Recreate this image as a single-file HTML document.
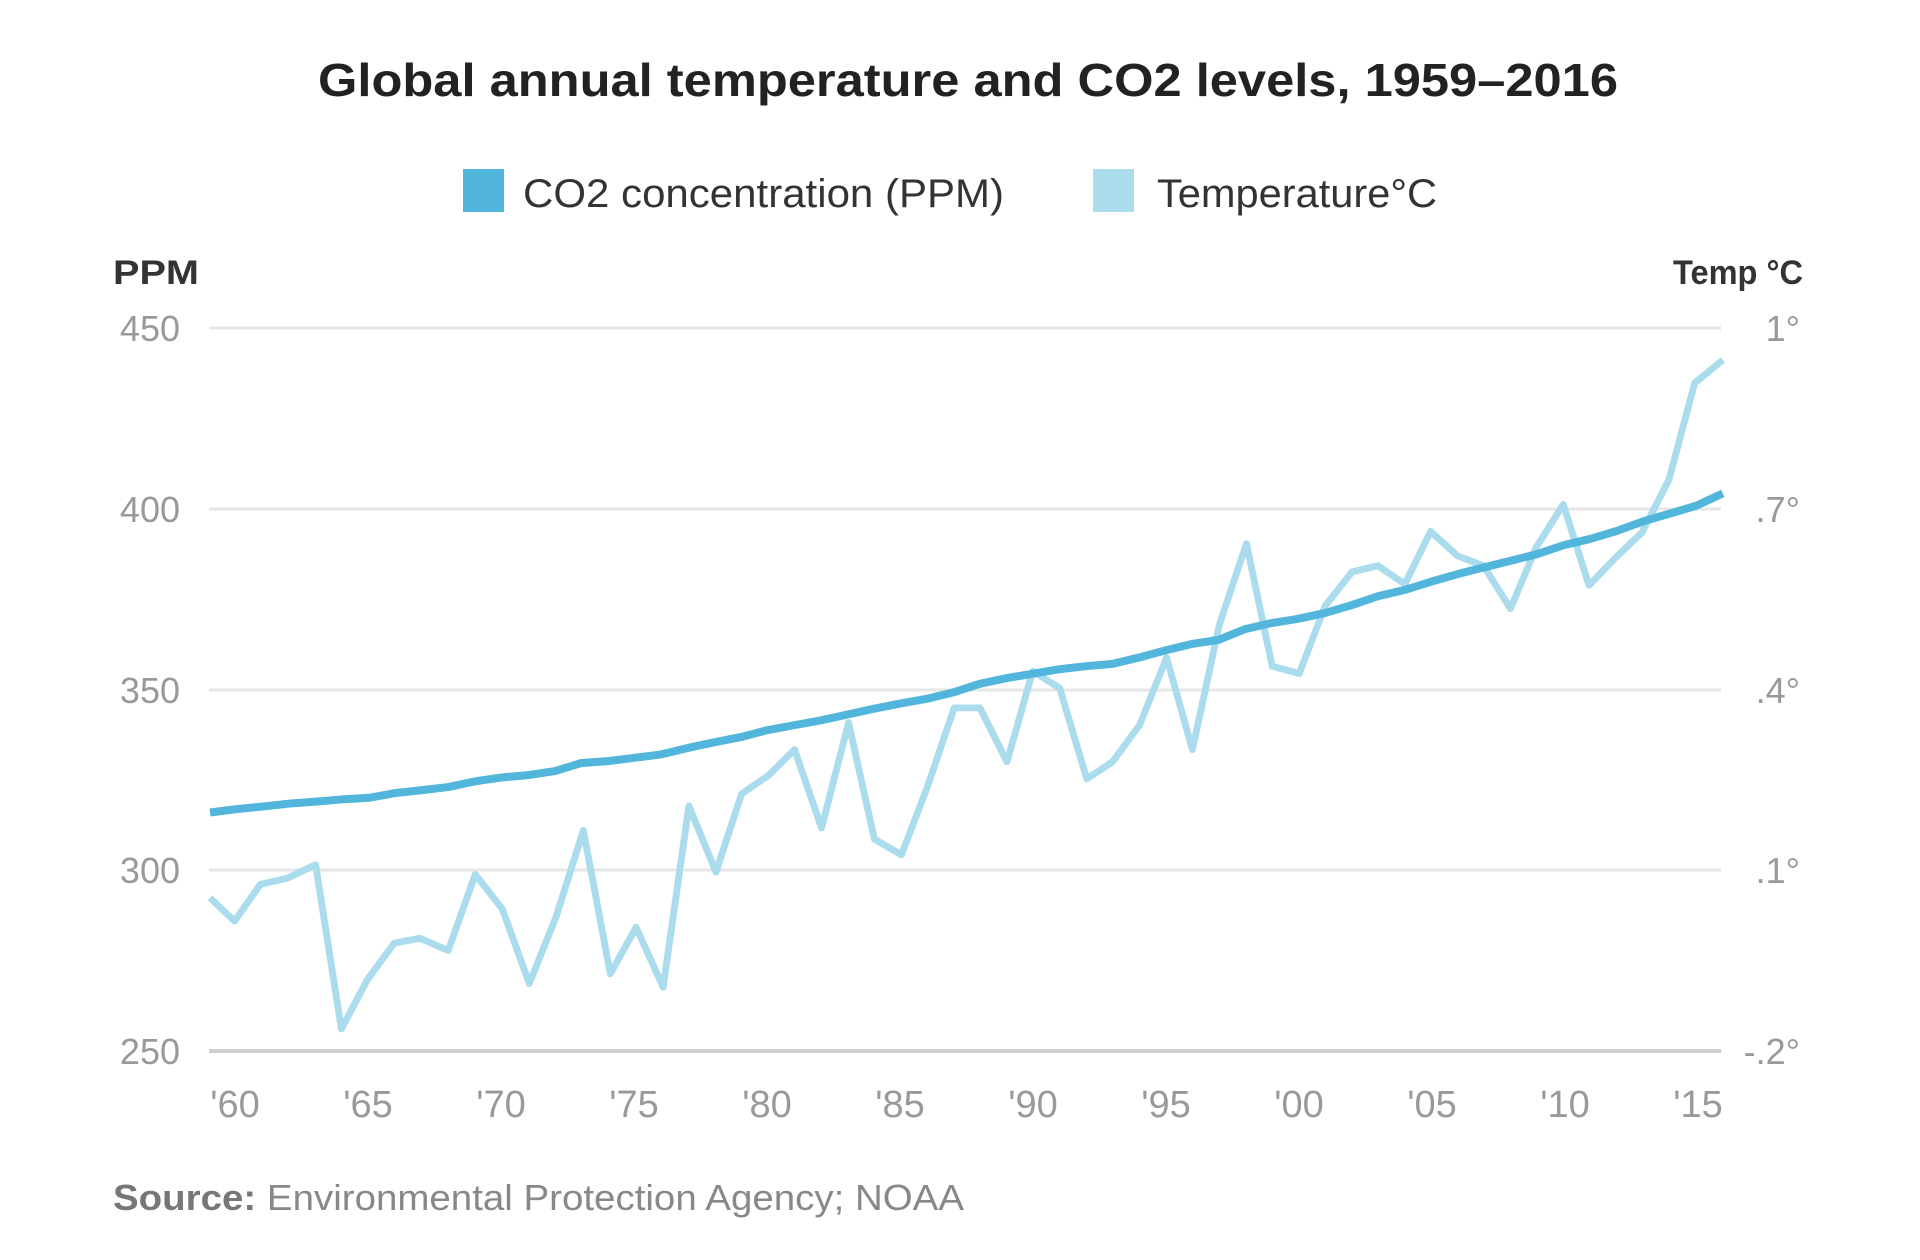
<!DOCTYPE html>
<html><head><meta charset="utf-8"><style>html,body{margin:0;padding:0;background:#fff;}svg{display:block}</style></head>
<body>
<svg width="1920" height="1260" viewBox="0 0 1920 1260" xmlns="http://www.w3.org/2000/svg" font-family="Liberation Sans, sans-serif">
<rect width="1920" height="1260" fill="#fff"/>
<text x="968" y="96" text-anchor="middle" font-size="46" font-weight="bold" fill="#222" textLength="1300" lengthAdjust="spacingAndGlyphs">Global annual temperature and CO2 levels, 1959–2016</text>
<rect x="463" y="169" width="41" height="43" fill="#52b6dc"/>
<text x="523" y="207" font-size="40" fill="#333" textLength="481" lengthAdjust="spacingAndGlyphs">CO2 concentration (PPM)</text>
<rect x="1093" y="169" width="41" height="43" fill="#aadcee"/>
<text x="1157" y="207" font-size="40" fill="#333" textLength="280" lengthAdjust="spacingAndGlyphs">Temperature°C</text>
<text x="113" y="284" font-size="34" font-weight="bold" fill="#333" textLength="86" lengthAdjust="spacingAndGlyphs">PPM</text>
<text x="1803" y="284" font-size="34" font-weight="bold" fill="#333" text-anchor="end" textLength="130" lengthAdjust="spacingAndGlyphs">Temp °C</text>
<g stroke="#e6e6e6" stroke-width="3">
<line x1="209" y1="328" x2="1721" y2="328"/>
<line x1="209" y1="509" x2="1721" y2="509"/>
<line x1="209" y1="690" x2="1721" y2="690"/>
<line x1="209" y1="870" x2="1721" y2="870"/>
</g>
<line x1="209" y1="1051" x2="1721" y2="1051" stroke="#cfcfcf" stroke-width="4"/>
<g font-size="36" fill="#999" text-anchor="end">
<text x="180" y="341">450</text><text x="180" y="522">400</text><text x="180" y="703">350</text><text x="180" y="883">300</text><text x="180" y="1064">250</text>
</g>
<g font-size="36" fill="#999" text-anchor="end">
<text x="1800" y="341">1°</text><text x="1800" y="522">.7°</text><text x="1800" y="703">.4°</text><text x="1800" y="883">.1°</text><text x="1800" y="1064">-.2°</text>
</g>
<g font-size="38" fill="#999" text-anchor="middle">
<text x="235" y="1117">'60</text><text x="368" y="1117">'65</text><text x="501" y="1117">'70</text><text x="634" y="1117">'75</text><text x="767" y="1117">'80</text><text x="900" y="1117">'85</text><text x="1033" y="1117">'90</text><text x="1166" y="1117">'95</text><text x="1299" y="1117">'00</text><text x="1432" y="1117">'05</text><text x="1565" y="1117">'10</text><text x="1698" y="1117">'15</text>
</g>
<g transform="translate(210,328) scale(1.228,1.2254) translate(-172,-268)">
<polyline fill="none" stroke="#aadcee" stroke-width="5.6" stroke-linejoin="round" points="172,733 192,752 213,722 235,717 258,706 279,840 300,800 322,770 343,766 366,776 388,714 410,742 432,803 454,748 476,678 498,795 519,757 541,806 562,658 584,712 605,648 627,633 648,612 670,676 692,590 713,685 735,698 756,643 778,578 799,578 821,622 842,548 864,562 886,636 907,622 929,592 951,537 972,612 994,510 1016,444 1037,544 1059,550 1080,495 1102,467 1123,462 1145,477 1166,434 1188,454 1209,462 1231,497 1252,447 1274,412 1295,478 1317,455 1338,435 1360,392 1381,313 1404,294"/>
</g>
<g transform="matrix(26.54,0,0,-3.615,-51781.86,1954.75)">
<polyline fill="none" stroke="#52b6dc" stroke-width="8" vector-effect="non-scaling-stroke" stroke-linejoin="round" points="1959,315.97 1960,316.91 1961,317.64 1962,318.45 1963,318.99 1964,319.62 1965,320.04 1966,321.38 1967,322.16 1968,323.04 1969,324.62 1970,325.68 1971,326.32 1972,327.45 1973,329.68 1974,330.18 1975,331.11 1976,332.04 1977,333.83 1978,335.4 1979,336.84 1980,338.75 1981,340.11 1982,341.45 1983,343.05 1984,344.65 1985,346.12 1986,347.42 1987,349.19 1988,351.57 1989,353.12 1990,354.39 1991,355.61 1992,356.45 1993,357.1 1994,358.83 1995,360.82 1996,362.61 1997,363.73 1998,366.7 1999,368.38 2000,369.55 2001,371.14 2002,373.28 2003,375.8 2004,377.52 2005,379.8 2006,381.9 2007,383.79 2008,385.6 2009,387.43 2010,389.9 2011,391.65 2012,393.85 2013,396.52 2014,398.65 2015,400.83 2016,404.24"/>
</g>
<text x="113" y="1210" font-size="36" fill="#888" textLength="851" lengthAdjust="spacingAndGlyphs"><tspan font-weight="bold" fill="#777">Source:</tspan> Environmental Protection Agency; NOAA</text>
</svg>
</body></html>
